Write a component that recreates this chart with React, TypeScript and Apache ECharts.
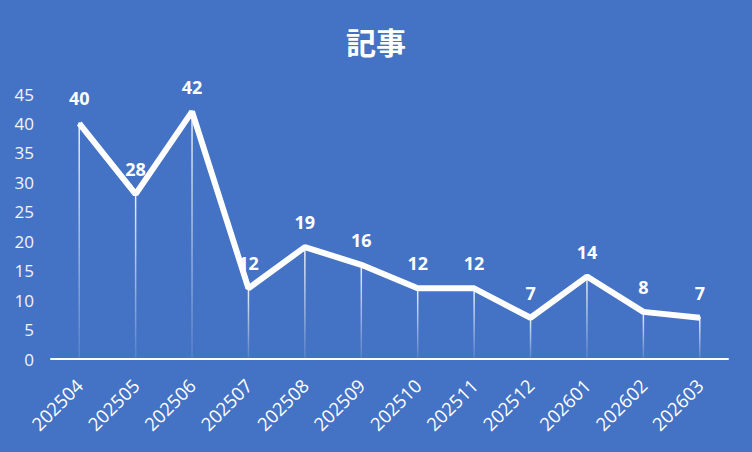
import React, { useEffect, useRef } from "react";
import * as echarts from "echarts";

const categories = ["202504", "202505", "202506", "202507", "202508", "202509", "202510", "202511", "202512", "202601", "202602", "202603"];
const values = [40, 28, 42, 12, 19, 16, 12, 12, 7, 14, 8, 7];
const titleText = "記事";
const yMin = 0;
const yMax = 45;
const yStep = 5;

export default function App() {
  const ref = useRef<HTMLDivElement>(null);
  useEffect(() => {
    document.body.style.margin = "0";
    document.body.style.background = "#4472C4";
    const chart = echarts.init(ref.current!, null, { renderer: "svg" });
    const axisFont = "'Open Sans', 'Noto Sans', sans-serif";
    const labelFont = "'Open Sans', 'Noto Sans', sans-serif";
    chart.setOption({
      animation: false,
      backgroundColor: "#4472C4",
      title: {
        text: titleText,
        left: "center",
        top: 26,
        padding: 0,
        textStyle: { color: "#ffffff", fontSize: 30, fontWeight: "bold", fontFamily: "'Noto Sans CJK JP', sans-serif" },
      },
      grid: { left: 51, right: 24, top: 94, bottom: 93, containLabel: false },
      xAxis: {
        type: "category",
        data: categories,
        boundaryGap: true,
        axisLine: { show: true, lineStyle: { color: "#ffffff", width: 2 } },
        axisTick: { show: false },
        axisLabel: { rotate: 45, color: "#ffffff", fontSize: 18.5, fontFamily: axisFont, margin: 23, interval: 0 },
        splitLine: { show: false },
      },
      yAxis: {
        type: "value",
        min: yMin,
        max: yMax,
        interval: yStep,
        axisLine: { show: false },
        axisTick: { show: false },
        splitLine: { show: false },
        axisLabel: { color: "#f2f5fb", fontSize: 17, fontFamily: axisFont, margin: 17 },
      },
      series: [
        {
          type: "bar",
          data: values,
          barWidth: 1.5,
          silent: true,
          itemStyle: {
            color: new echarts.graphic.LinearGradient(0, 0, 0, 1, [
              { offset: 0, color: "rgba(255,255,255,0.9)" },
              { offset: 1, color: "rgba(255,255,255,0.1)" },
            ]),
          },
        },
        {
          type: "line",
          data: values,
          symbol: "circle",
          symbolSize: 2,
          showSymbol: true,
          lineStyle: { color: "#ffffff", width: 6 },
          itemStyle: { color: "#ffffff" },
          label: {
            show: true,
            position: "top",
            distance: 15,
            color: "#ffffff",
            fontSize: 18,
            fontWeight: "bold",
            fontFamily: labelFont,
          },
        },
      ],
    });
    return () => chart.dispose();
  }, []);
  return <div ref={ref} style={{ width: 752, height: 452 }} />;
}
